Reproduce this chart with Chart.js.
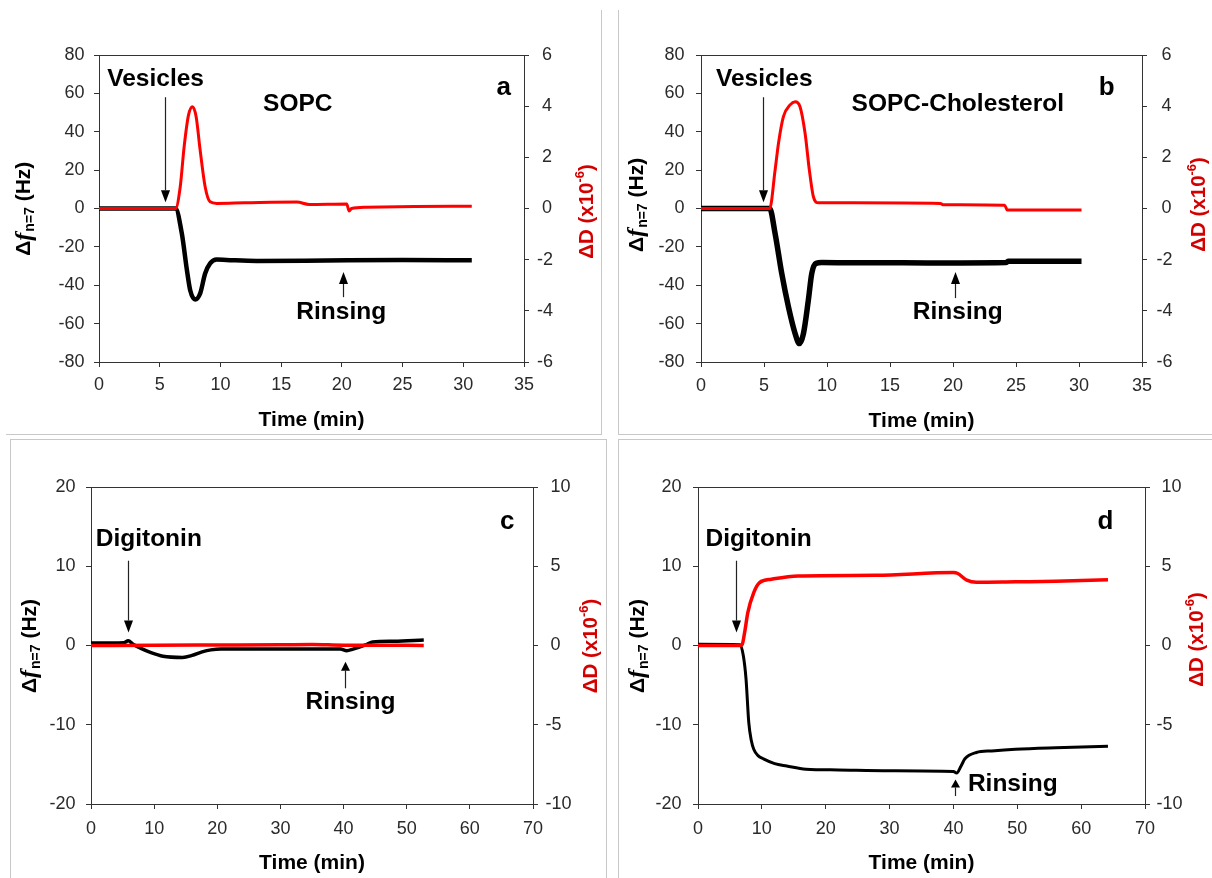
<!DOCTYPE html>
<html>
<head>
<meta charset="utf-8">
<script src="https://cdn.jsdelivr.net/npm/chart.js@4.4.0/dist/chart.umd.min.js"></script>
<style>
  html, body { margin: 0; padding: 0; background: #fff; }
  #page { position: relative; width: 1212px; height: 878px; overflow: hidden; }
  .frame { position: absolute; box-sizing: border-box; border: 0 solid #c8c8c8; }
  .panel { position: absolute; width: 606px; height: 439px; }
</style>
</head>
<body>
<div id="page">
  <div class="frame" style="left:6px;top:10px;width:596px;height:425px;border-right-width:1px;border-bottom-width:1px"></div>
  <div class="frame" style="left:618px;top:10px;width:594px;height:425px;border-left-width:1px;border-bottom-width:1px"></div>
  <div class="frame" style="left:10px;top:439px;width:597px;height:439px;border-top-width:1px;border-left-width:1px;border-right-width:1px"></div>
  <div class="frame" style="left:618px;top:439px;width:594px;height:439px;border-top-width:1px;border-left-width:1px"></div>

  <div class="panel" style="left:0;top:0"><canvas id="chartA" width="606" height="439"></canvas></div>
  <div class="panel" style="left:606px;top:0"><canvas id="chartB" width="606" height="439"></canvas></div>
  <div class="panel" style="left:0;top:439px"><canvas id="chartC" width="606" height="439"></canvas></div>
  <div class="panel" style="left:606px;top:439px"><canvas id="chartD" width="606" height="439"></canvas></div>
</div>

<script>
// ---- data (time in min, frequency in Hz, dissipation in 1e-6) ----

// a: SOPC
const aFreqTime = [0, 6.3, 6.82, 7.24, 7.51, 7.92, 8.33, 8.74, 9.15, 9.7, 10.5, 13, 17, 20.5, 25, 30.7];
const aFreq = [0, 0, -13, -32.1, -42.6, -47.4, -44.3, -33.9, -28.6, -26.6, -26.8, -27.3, -27.2, -27, -26.9, -27];
const aDissTime = [0, 6.3, 6.69, 7.01, 7.37, 7.7, 8.0, 8.33, 8.74, 9.15, 9.7, 12, 16.3, 17.3, 20.4, 20.6, 20.8, 22, 26, 30.7];
const aDiss = [0, 0, 0.85, 2.41, 3.65, 3.98, 3.59, 2.28, 0.85, 0.26, 0.2, 0.22, 0.25, 0.16, 0.18, -0.1, 0.0, 0.05, 0.08, 0.09];

// b: SOPC-Cholesterol
const bFreqTime = [0, 5.45, 5.88, 6.41, 6.94, 7.47, 7.81, 8.13, 8.52, 8.79, 9.13, 9.6, 12, 16, 20, 24.2, 24.4, 30.2];
const bFreq = [0, 0, -13, -33.9, -51.3, -65.2, -70.4, -65.2, -47.8, -33.9, -28.6, -28.2, -28.3, -28.3, -28.4, -28.2, -27.5, -27.5];
const bDissTime = [0, 5.45, 5.88, 6.15, 6.54, 7.07, 7.47, 7.86, 8.26, 8.6, 8.92, 9.32, 12, 19, 19.2, 24.1, 24.3, 30.2];
const bDiss = [0, 0, 1.5, 2.55, 3.59, 4.05, 4.17, 3.98, 2.94, 1.5, 0.46, 0.22, 0.22, 0.2, 0.15, 0.13, -0.06, -0.06];

// c: digitonin on SOPC
const cFreqTime = [0, 5.2, 5.9, 6.6, 8, 9.5, 11.4, 14.5, 16, 17.6, 19, 20.6, 30, 39.5, 40.5, 41.5, 43.7, 44.6, 48, 52.7];
const cFreq = [0.3, 0.35, 0.6, 0.2, -0.4, -0.9, -1.35, -1.5, -1.25, -0.8, -0.55, -0.45, -0.45, -0.45, -0.65, -0.45, 0.15, 0.45, 0.55, 0.7];
const cDissTime = [0, 10, 20, 30, 35, 40, 45, 52.7];
const cDiss = [0, 0.02, 0.03, 0.04, 0.06, 0.02, 0.02, 0.0];

// d: digitonin on SOPC-cholesterol
const dFreqTime = [0, 6.6, 7.1, 7.52, 7.95, 8.35, 8.73, 9.4, 10.25, 12, 13.9, 16.9, 22, 30, 40, 40.5, 41.2, 41.8, 43.6, 46, 49.7, 56, 64.2];
const dFreq = [0.15, 0.1, -1.3, -4.2, -9.7, -12, -13.1, -13.9, -14.3, -14.9, -15.2, -15.6, -15.7, -15.8, -15.9, -16.1, -15.2, -14.3, -13.5, -13.3, -13.1, -12.9, -12.7];
const dDissTime = [0, 6.6, 6.9, 7.3, 7.8, 8.73, 9.64, 11.5, 15.7, 27.8, 40, 40.6, 42.1, 43.6, 49.7, 56, 64.2];
const dDiss = [0, 0, 0.05, 0.82, 2.08, 3.34, 3.97, 4.18, 4.39, 4.43, 4.6, 4.56, 4.12, 3.99, 4.02, 4.05, 4.15];

// axis ranges / tick steps
const shortTime = { min: 0, max: 35, step: 5 };
const longTime = { min: 0, max: 70, step: 10 };
const freqWide = { min: -80, max: 80, step: 20 };
const dissWide = { min: -6, max: 6, step: 2 };
const freqNarrow = { min: -20, max: 20, step: 10 };
const dissNarrow = { min: -10, max: 10, step: 5 };

// ---- helpers ----
const SANS = '"Liberation Sans", Arial, sans-serif';
const SERIF = '"Liberation Serif", "Times New Roman", serif';
const AXIS = '#333';
const RED = '#ff0000';

const zip = (xs, ys) => xs.map((x, i) => ({ x, y: ys[i] }));

function drawRich(ctx, parts, cx, cy, rotate) {
  ctx.save();
  ctx.translate(cx, cy);
  if (rotate) ctx.rotate(-Math.PI / 2);
  let total = 0;
  parts.forEach(p => {
    ctx.font = p.font;
    p.w = ctx.measureText(p.text).width + (p.gap || 0);
    total += p.w;
  });
  let x = -total / 2;
  ctx.textAlign = 'left';
  ctx.textBaseline = 'middle';
  parts.forEach(p => {
    ctx.font = p.font;
    ctx.fillStyle = p.color;
    ctx.fillText(p.text, x, p.dy || 0);
    x += p.w;
  });
  ctx.restore();
}

function leftTitle() {
  return [
    { text: 'Δ', font: 'bold 21px ' + SANS, color: '#000' },
    { text: 'f', font: 'italic bold 24px ' + SERIF, color: '#000', gap: 1 },
    { text: 'n=7', font: 'bold 14px ' + SANS, color: '#000', dy: 6 },
    { text: ' (Hz)', font: 'bold 21px ' + SANS, color: '#000' }
  ];
}

function rightTitle() {
  const c = '#d40000';
  return [
    { text: 'ΔD (x10', font: 'bold 20.5px ' + SANS, color: c },
    { text: '-6', font: 'bold 13px ' + SANS, color: c, dy: -7 },
    { text: ')', font: 'bold 20.5px ' + SANS, color: c }
  ];
}

// texts, arrows, frame top line and axis titles
function decoPlugin(p) {
  return {
    id: 'deco',
    afterDraw(chart) {
      const { ctx, chartArea } = chart;
      const xs = chart.scales.x;
      const ys = chart.scales.y;

      ctx.save();
      ctx.strokeStyle = AXIS;
      ctx.lineWidth = 1;
      ctx.beginPath();
      const top = Math.round(chartArea.top) + 0.5;
      ctx.moveTo(chartArea.left, top);
      ctx.lineTo(chartArea.right, top);
      ctx.stroke();

      p.arrows.forEach(a => {
        const x = Math.round(xs.getPixelForValue(a.x)) + 0.5;
        const y0 = ys.getPixelForValue(a.from);
        const y1 = ys.getPixelForValue(a.to);
        const dir = y1 > y0 ? 1 : -1;
        const head = a.head || 12;
        ctx.strokeStyle = '#222';
        ctx.fillStyle = '#000';
        ctx.lineWidth = 1.2;
        ctx.beginPath();
        ctx.moveTo(x, y0);
        ctx.lineTo(x, y1 - dir * head);
        ctx.stroke();
        ctx.beginPath();
        ctx.moveTo(x, y1);
        ctx.lineTo(x - 4.5, y1 - dir * head);
        ctx.lineTo(x + 4.5, y1 - dir * head);
        ctx.closePath();
        ctx.fill();
      });

      ctx.fillStyle = '#000';
      ctx.textAlign = 'center';
      ctx.textBaseline = 'alphabetic';
      p.texts.forEach(t => {
        ctx.font = 'bold ' + (t.size || 24.5) + 'px ' + SANS;
        ctx.fillText(t.text, xs.getPixelForValue(t.x), ys.getPixelForValue(t.y));
      });

      ctx.font = 'bold 21px ' + SANS;
      ctx.textBaseline = 'middle';
      ctx.fillText('Time (min)', (chartArea.left + chartArea.right) / 2, p.timeY);
      ctx.restore();

      drawRich(ctx, leftTitle(), p.leftTitle[0], p.leftTitle[1], true);
      drawRich(ctx, rightTitle(), p.rightTitle[0], p.rightTitle[1], true);
    }
  };
}

function axis(range, extra) {
  return Object.assign({
    type: 'linear',
    min: range.min,
    max: range.max,
    grid: { display: true, drawOnChartArea: false, drawTicks: true, tickLength: 5, color: AXIS },
    border: { display: true, color: AXIS, width: 1 }
  }, extra);
}

function makePanel(id, p) {
  new Chart(document.getElementById(id), {
    type: 'line',
    data: {
      datasets: [
        {
          data: zip(p.dissTime, p.diss),
          yAxisID: 'y1',
          borderColor: RED,
          borderWidth: p.redWidth,
          pointRadius: 0,
          cubicInterpolationMode: 'monotone',
          borderJoinStyle: 'round'
        },
        {
          data: zip(p.freqTime, p.freq),
          yAxisID: 'y',
          borderColor: '#000',
          borderWidth: p.blackWidth,
          pointRadius: 0,
          cubicInterpolationMode: 'monotone',
          borderJoinStyle: 'round'
        }
      ]
    },
    options: {
      responsive: false,
      animation: false,
      events: [],
      layout: { padding: { top: p.area.top, left: 0, right: 0, bottom: 0 } },
      plugins: { legend: { display: false }, tooltip: { enabled: false } },
      scales: {
        x: axis(p.time, {
          position: 'bottom',
          ticks: { stepSize: p.time.step, padding: p.pad.x, color: '#2a2a2a', font: { family: SANS, size: 18 }, maxRotation: 0 },
          afterFit: s => { s.height = 439 - p.area.bottom; }
        }),
        y: axis(p.freqRange, {
          position: 'left',
          ticks: { stepSize: p.freqRange.step, padding: p.pad.y, color: '#2a2a2a', font: { family: SANS, size: 18 } },
          afterFit: s => { s.width = p.area.left; }
        }),
        y1: axis(p.dissRange, {
          position: 'right',
          ticks: {
            stepSize: p.dissRange.step,
            padding: p.pad.y1,
            color: '#2a2a2a',
            crossAlign: 'near',
            font: { family: SANS, size: 18 },
            callback: v => (v < 0 ? '' : ' ') + v
          },
          afterFit: s => { s.width = 606 - p.area.right; }
        })
      }
    },
    plugins: [decoPlugin(p)]
  });
}

makePanel('chartA', {
  freqTime: aFreqTime, freq: aFreq, dissTime: aDissTime, diss: aDiss,
  time: shortTime, freqRange: freqWide, dissRange: dissWide,
  area: { left: 99, right: 524, top: 55, bottom: 362 },
  pad: { x: 7.6, y: 9.6, y1: 8 },
  blackWidth: 4.5, redWidth: 3,
  texts: [
    { text: 'Vesicles', x: 4.66, y: 64.0 },
    { text: 'SOPC', x: 16.37, y: 51.0 },
    { text: 'a', x: 33.33, y: 59.2, size: 26 },
    { text: 'Rinsing', x: 19.95, y: -57.7 }
  ],
  arrows: [
    { x: 5.44, from: 58, to: 3.3 },
    { x: 20.07, from: -46.2, to: -33.1 }
  ],
  timeY: 420, leftTitle: [24.4, 208.7], rightTitle: [587.3, 211.5]
});

makePanel('chartB', {
  freqTime: bFreqTime, freq: bFreq, dissTime: bDissTime, diss: bDiss,
  time: shortTime, freqRange: freqWide, dissRange: dissWide,
  area: { left: 95, right: 536, top: 55, bottom: 362 },
  pad: { x: 8.1, y: 11.4, y1: 9.6 },
  blackWidth: 5.5, redWidth: 3,
  texts: [
    { text: 'Vesicles', x: 5.02, y: 63.6 },
    { text: 'SOPC-Cholesterol', x: 20.38, y: 51.0 },
    { text: 'b', x: 32.2, y: 59.2, size: 26 },
    { text: 'Rinsing', x: 20.38, y: -57.7 }
  ],
  arrows: [
    { x: 4.94, from: 58, to: 3.3 },
    { x: 20.18, from: -46.7, to: -33.1 }
  ],
  timeY: 421.6, leftTitle: [31, 204.9], rightTitle: [593.2, 204.4]
});

makePanel('chartC', {
  freqTime: cFreqTime, freq: cFreq, dissTime: cDissTime, diss: cDiss,
  time: longTime, freqRange: freqNarrow, dissRange: dissNarrow,
  area: { left: 91, right: 533, top: 48, bottom: 365 },
  pad: { x: 9.2, y: 10.5, y1: 7.6 },
  blackWidth: 3.5, redWidth: 3.5,
  texts: [
    { text: 'Digitonin', x: 9.15, y: 12.5 },
    { text: 'c', x: 65.9, y: 14.75, size: 26 },
    { text: 'Rinsing', x: 41.1, y: -8.03 }
  ],
  arrows: [
    { x: 5.87, from: 10.7, to: 1.64 },
    { x: 40.3, from: -5.4, to: -2.06, head: 9 }
  ],
  timeY: 424, leftTitle: [30.2, 207], rightTitle: [591.2, 207]
});

makePanel('chartD', {
  freqTime: dFreqTime, freq: dFreq, dissTime: dDissTime, diss: dDiss,
  time: longTime, freqRange: freqNarrow, dissRange: dissNarrow,
  area: { left: 92, right: 539, top: 48, bottom: 365 },
  pad: { x: 9.6, y: 11.5, y1: 6.6 },
  blackWidth: 3, redWidth: 3.5,
  texts: [
    { text: 'Digitonin', x: 9.5, y: 12.5 },
    { text: 'd', x: 63.8, y: 14.66, size: 26 },
    { text: 'Rinsing', x: 49.3, y: -18.3 }
  ],
  arrows: [
    { x: 5.88, from: 10.7, to: 1.64 },
    { x: 40.3, from: -19.0, to: -16.9, head: 8 }
  ],
  timeY: 424, leftTitle: [32.2, 207], rightTitle: [591.2, 200.4]
});
</script>
</body>
</html>
